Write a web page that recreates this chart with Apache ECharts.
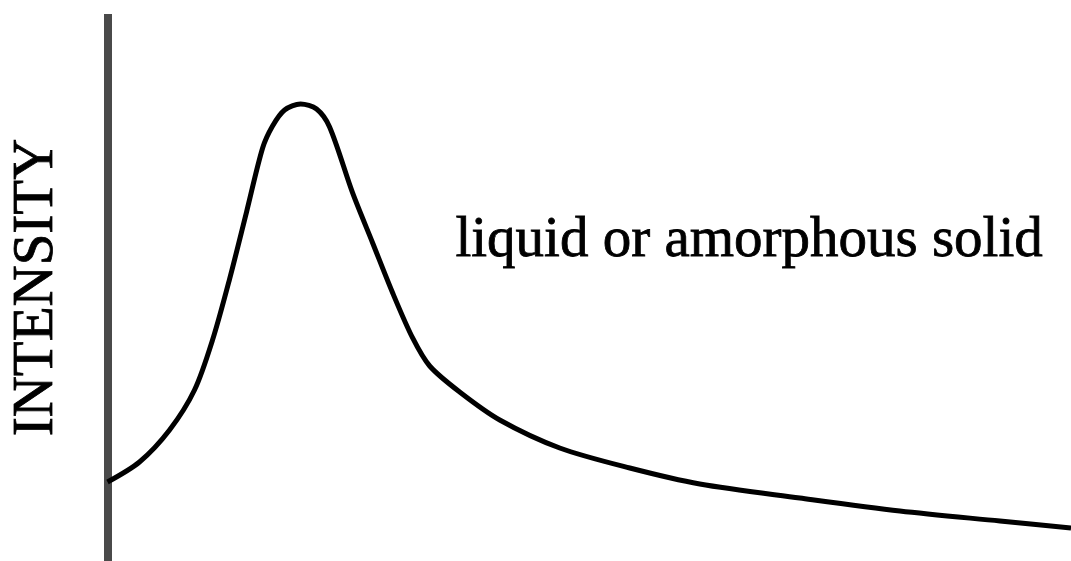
<!DOCTYPE html>
<html>
<head>
<meta charset="utf-8">
<title>Diffraction intensity – liquid or amorphous solid</title>
<script src="https://cdn.jsdelivr.net/npm/echarts@6/dist/echarts.min.js"></script>
<style>
  html, body { margin: 0; padding: 0; background: #ffffff; }
  #chart { width: 1071px; height: 561px; }
</style>
</head>
<body>
<div id="chart"></div>
<script>
// Scattering angle (arbitrary units, 0–100) along the horizontal axis
const angle = [
  0.0, 3.32, 6.44, 9.03, 10.9, 12.67, 14.43, 16.1, 17.13, 18.38,
  20.04, 21.7, 23.05, 25.44, 27.52, 29.6, 31.67, 33.44, 36.55,
  40.71, 46.94, 54.21, 61.47, 71.86, 82.24, 92.63, 100.0
];
// Measured intensity (arbitrary units, 0–100): one broad halo, no sharp peaks
const intensity = [
  14.44, 18.1, 23.95, 31.26, 40.4, 51.55, 63.8, 75.5, 79.52, 82.45,
  83.55, 82.63, 79.34, 67.28, 58.14, 48.99, 40.77, 35.65, 30.9,
  25.78, 20.66, 17.0, 14.08, 11.52, 9.14, 7.31, 6.03
];
const yAxisTitle = 'INTENSITY';
const curveNote = 'liquid or amorphous solid';

const serif = '"Liberation Serif", "DejaVu Serif", "Times New Roman", serif';
const chart = echarts.init(document.getElementById('chart'), null, { renderer: 'canvas' });

chart.setOption({
  backgroundColor: '#ffffff',
  animation: false,
  grid: {
    left: 107.5, right: 0, top: 14, bottom: 0,
    containLabel: false,
    outerBoundsMode: 'none'
  },
  xAxis: {
    type: 'value', min: 0, max: 100, show: false
  },
  yAxis: {
    type: 'value', min: 0, max: 100,
    name: yAxisTitle,
    nameLocation: 'middle',
    nameRotate: 90,
    nameGap: 42,
    nameTextStyle: {
      fontFamily: serif, fontSize: 57, color: '#000000',
      textBorderColor: '#000000', textBorderWidth: 0.8
    },
    axisLine: { show: true, lineStyle: { color: '#4a4a4a', width: 8, cap: 'butt' } },
    axisTick: { show: false },
    axisLabel: { show: false },
    splitLine: { show: false }
  },
  series: [{
    type: 'line',
    data: angle.map((a, i) => [a, intensity[i]]),
    smooth: 0.3,
    symbol: 'none',
    clip: false,
    lineStyle: { color: '#000000', width: 5 }
  }],
  graphic: [{
    type: 'text',
    left: 455,
    top: 212,
    style: {
      text: curveNote,
      font: '57px ' + serif,
      fill: '#000000',
      stroke: '#000000',
      lineWidth: 0.8
    }
  }]
});
</script>
</body>
</html>
